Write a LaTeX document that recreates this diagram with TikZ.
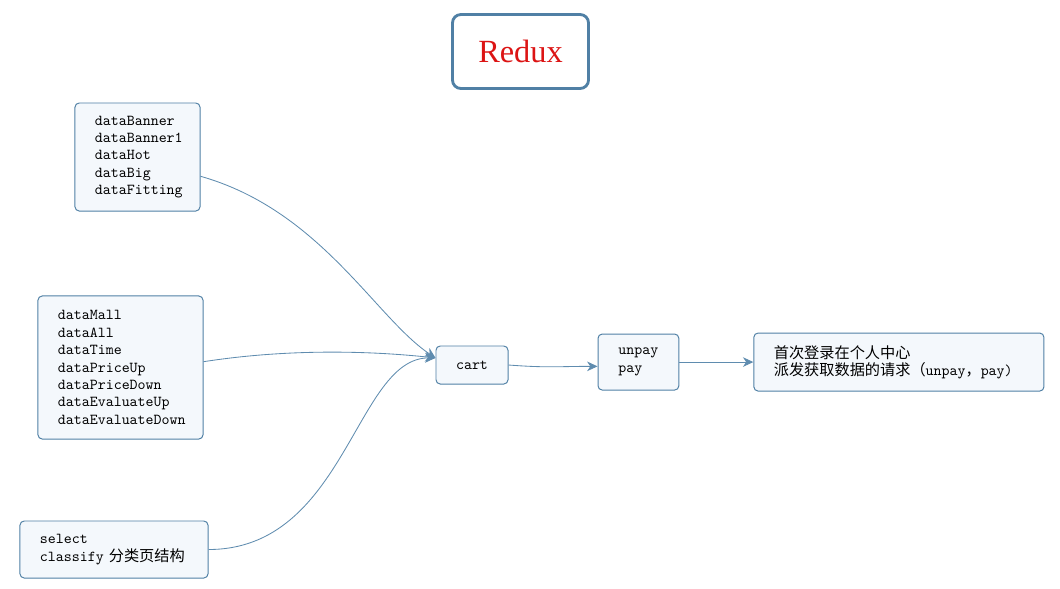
\documentclass[tikz,border=0pt]{standalone}
\usepackage{fontspec}
\setmainfont{Liberation Serif}
\newfontfamily\cjk{Noto Sans CJK SC}[Scale=1.0]
\usetikzlibrary{arrows.meta, positioning}
\definecolor{boxline}{RGB}{80,128,165}
\definecolor{boxfill}{RGB}{244,248,252}
\definecolor{linkline}{RGB}{95,140,175}
\definecolor{titlered}{RGB}{220,20,20}

\begin{document}
\begin{tikzpicture}[x=0.025cm, y=-0.025cm,
    listbox/.style={draw=boxline, fill=boxfill, line width=0.7pt, rounded corners=3pt, inner xsep=0.5cm, inner ysep=0pt, align=left, font=\ttfamily\fontsize{10.8pt}{12.4pt}\selectfont},
    link/.style={draw=linkline, line width=0.6pt, -{Stealth[length=2.6mm, width=2.4mm, inset=0.8mm]}}]
    \useasboundingbox (0,0) rectangle (1060,588);

    % Title
    \node[draw=boxline, line width=2pt, rounded corners=6pt, fill=white, minimum width=3.4cm, minimum height=1.85cm, text=titlered, font=\fontsize{23pt}{26pt}\selectfont] (redux) at (520.5,51.5) {Redux};

    % Data lists on the left
    \node[listbox, text width=2.125cm, minimum height=2.7cm] (banner) at (137.5,157) {dataBanner\\dataBanner1\\dataHot\\dataBig\\dataFitting};
    \node[listbox, text width=3.125cm, minimum height=3.575cm] (mall) at (120.5,367.5) {dataMall\\dataAll\\dataTime\\dataPriceUp\\dataPriceDown\\dataEvaluateUp\\dataEvaluateDown};
    \node[listbox, text width=3.7cm, minimum height=1.425cm] (classify) at (114,549.5) {select\\classify {\cjk 分类页结构}};

    % Cart chain
    \node[listbox, align=center, text width=0.8cm, minimum height=0.95cm] (cart) at (472,365) {cart};
    \node[listbox, inner xsep=0.51cm, text width=1cm, minimum height=1.4cm, right=2.225cm of cart, yshift=2.1pt] (unpay) {unpay\\pay};
    \node[listbox, text width=6.25cm, minimum height=1.45cm, right=1.85cm of unpay] (request) {{\cjk 首次登录在个人中心}\\{\cjk 派发获取数据的请求（}unpay{\cjk ，}pay)};

    % Connections into cart
    \draw[link] (banner.-17) .. controls +(120,34) and +(-60,-40) .. (cart.169);
    \draw[link] (mall.4) .. controls +(77,-12) and +(-75,-8) .. (cart.169);
    \draw[link] (classify.east) .. controls +(137,0) and +(-80,0) .. (cart.169);

    % Connections to the right
    \draw[link] (cart.east) .. controls +(40,3) and +(-40,0) .. (unpay.-174);
    \draw[link] (unpay.east) .. controls +(35,0) and +(-35,0) .. (request.west);
\end{tikzpicture}
\end{document}
